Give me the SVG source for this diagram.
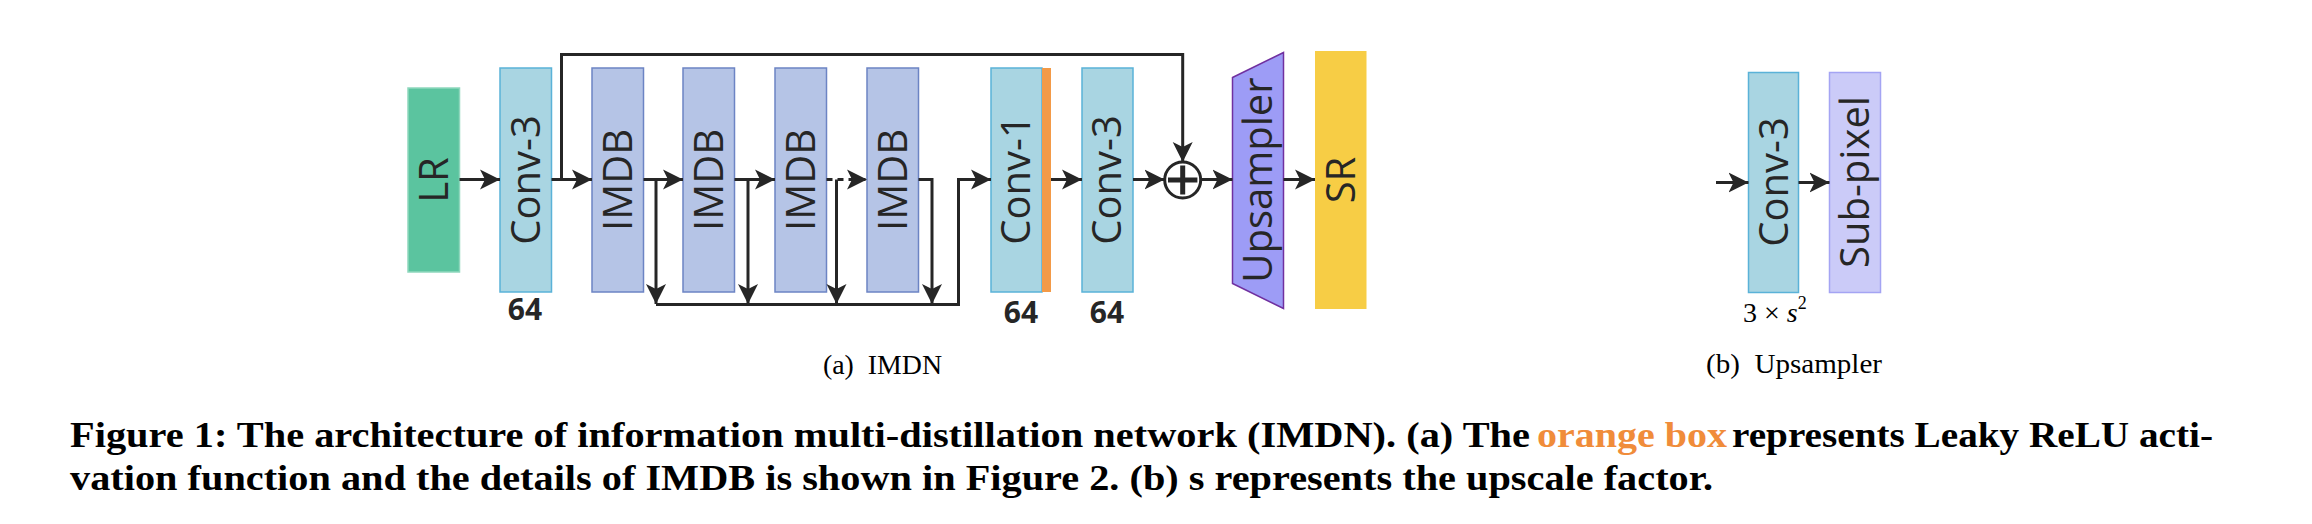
<svg xmlns="http://www.w3.org/2000/svg" width="2312" height="524" viewBox="0 0 2312 524">
<defs>
<marker id="ah" markerUnits="userSpaceOnUse" markerWidth="22" markerHeight="22" refX="20" refY="10" orient="auto" viewBox="0 0 22 20">
<path d="M0,0 L20,10 L0,20 L5,10 z" fill="#262626"/>
</marker>
<style>
.lbl{font-family:"Open Sans","DejaVu Sans",sans-serif;font-size:40px;fill:#262626;text-anchor:middle}
.num{font-family:"Open Sans","DejaVu Sans",sans-serif;font-size:30px;font-weight:bold;fill:#262626;text-anchor:middle}
.sub{font-family:"Liberation Serif","Times New Roman",serif;font-size:28px;fill:#000}
.cap{font-family:"Liberation Serif","Times New Roman",serif;font-size:36px;font-weight:bold;fill:#000}
.ln{fill:none;stroke:#262626;stroke-width:3}
.conv{fill:#a9d5e2;stroke:#5ab2d8;stroke-width:1.5}
.imdb{fill:#b5c4e6;stroke:#6c84c4;stroke-width:1.5}
</style>
</defs>
<rect width="2312" height="524" fill="#fff"/>

<g id="lr"><rect x="408" y="88" width="51.5" height="184" fill="#5bc49f" stroke="#8fd7bd" stroke-width="1.5"/><text class="lbl" transform="translate(434,180) rotate(-90)" y="14">LR</text></g>
<g id="conv3a"><rect class="conv" x="500" y="68" width="51.5" height="224"/><text class="lbl" transform="translate(526,180) rotate(-90)" y="14">Conv-3</text><text class="num" x="525" y="320">64</text></g>
<g id="imdb1"><rect class="imdb" x="592" y="68" width="51.5" height="224"/><text class="lbl" transform="translate(618,180) rotate(-90)" y="14">IMDB</text></g>
<g id="imdb2"><rect class="imdb" x="683" y="68" width="51.5" height="224"/><text class="lbl" transform="translate(709,180) rotate(-90)" y="14">IMDB</text></g>
<g id="imdb3"><rect class="imdb" x="775" y="68" width="51.5" height="224"/><text class="lbl" transform="translate(801,180) rotate(-90)" y="14">IMDB</text></g>
<g id="imdb4"><rect class="imdb" x="867" y="68" width="51.5" height="224"/><text class="lbl" transform="translate(893,180) rotate(-90)" y="14">IMDB</text></g>
<g id="conv1"><rect class="conv" x="991" y="68" width="51" height="224"/><rect x="1042" y="68" width="9" height="224" fill="#f39a47"/><text class="lbl" transform="translate(1016,180) rotate(-90)" y="14">Conv-1</text><text class="num" x="1021" y="323">64</text></g>
<g id="conv3b"><rect class="conv" x="1082" y="68" width="51" height="224"/><text class="lbl" transform="translate(1107,180) rotate(-90)" y="14">Conv-3</text><text class="num" x="1107" y="323">64</text></g>
<g id="add"><circle cx="1182.7" cy="180" r="18" fill="#fff" stroke="#262626" stroke-width="3"/><path d="M1168,180 H1197.4 M1182.7,165.5 V194.5" stroke="#262626" stroke-width="5"/></g>
<g id="upsampler"><path d="M1232.5,77.5 L1283.5,52.5 L1283.5,308.5 L1232.5,283.5 Z" fill="#9d9cf6" stroke="#7030a0" stroke-width="1.5"/><text class="lbl" transform="translate(1258,180) rotate(-90)" y="14">Upsampler</text></g>
<g id="sr"><rect x="1315" y="51" width="51.5" height="258" fill="#f7cd45"/><text class="lbl" transform="translate(1341,180) rotate(-90)" y="14">SR</text></g>

<g id="conv3c"><rect class="conv" x="1748.5" y="72.5" width="50" height="220"/><text class="lbl" transform="translate(1773.5,182) rotate(-90)" y="14">Conv-3</text></g>
<g id="subpixel"><rect x="1829.5" y="72.5" width="51" height="220" fill="#cbcbf8" stroke="#a4a4f3" stroke-width="1.5"/><text class="lbl" transform="translate(1855,182) rotate(-90)" y="14">Sub-pixel</text></g>

<g id="connectors">
<path class="ln" d="M459.5,179.5 H500" marker-end="url(#ah)"/>
<path class="ln" d="M551.5,179.5 H592" marker-end="url(#ah)"/>
<path class="ln" d="M643.5,179.5 H683" marker-end="url(#ah)"/>
<path class="ln" d="M734.5,179.5 H775" marker-end="url(#ah)"/>
<path class="ln" d="M826.5,179.5 H867" stroke-dasharray="6,5" marker-end="url(#ah)"/>
<path class="ln" d="M561.5,179.5 V54.5 H1182.7 V162" marker-end="url(#ah)"/>
<path class="ln" d="M656,179.5 V304" marker-end="url(#ah)"/>
<path class="ln" d="M748,179.5 V304" marker-end="url(#ah)"/>
<path class="ln" d="M836.5,179.5 V304" marker-end="url(#ah)"/>
<path class="ln" d="M918.5,179.5 H932 V304" marker-end="url(#ah)"/>
<path class="ln" d="M656,304.5 H958.5 V179.5 H991" marker-end="url(#ah)"/>
<path class="ln" d="M1051,179.5 H1082" marker-end="url(#ah)"/>
<path class="ln" d="M1133,179.5 H1164.5" marker-end="url(#ah)"/>
<path class="ln" d="M1201,179.5 H1232.5" marker-end="url(#ah)"/>
<path class="ln" d="M1283.5,179.5 H1315" marker-end="url(#ah)"/>
<path class="ln" d="M1716,182.5 H1748.5" marker-end="url(#ah)"/>
<path class="ln" d="M1798.5,182.5 H1829.5" marker-end="url(#ah)"/>
</g>

<text class="sub" x="1743" y="321.5" font-size="29" xml:space="preserve">3 × <tspan font-style="italic">s</tspan><tspan font-size="18" dy="-13">2</tspan></text>
<text class="sub" x="823" y="374" textLength="119" lengthAdjust="spacingAndGlyphs" xml:space="preserve">(a)  IMDN</text>
<text class="sub" x="1706" y="373" textLength="176" lengthAdjust="spacingAndGlyphs" xml:space="preserve">(b)  Upsampler</text>

<text class="cap" x="70" y="447" textLength="1460" lengthAdjust="spacingAndGlyphs">Figure 1: The architecture of information multi-distillation network (IMDN). (a) The</text>
<text class="cap" x="1537" y="447" textLength="190" lengthAdjust="spacingAndGlyphs" style="fill:#f08c3a">orange box</text>
<text class="cap" x="1732" y="447" textLength="481" lengthAdjust="spacingAndGlyphs">represents Leaky ReLU acti-</text>
<text class="cap" x="70" y="490" textLength="1643" lengthAdjust="spacingAndGlyphs">vation function and the details of IMDB is shown in Figure 2. (b) s represents the upscale factor.</text>
</svg>
